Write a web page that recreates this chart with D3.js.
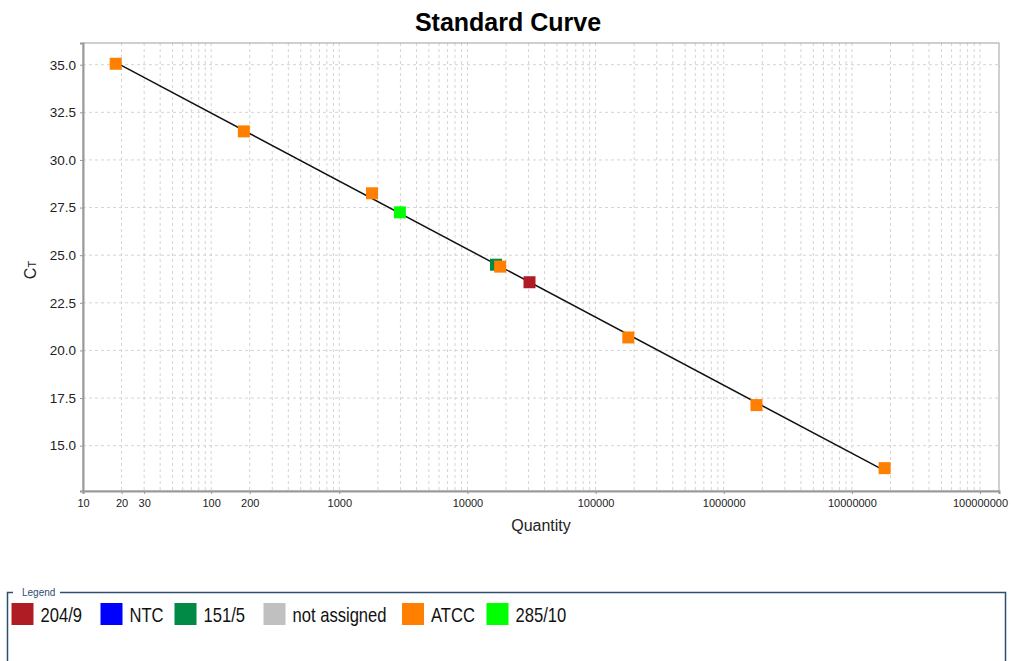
<!DOCTYPE html>
<html>
<head>
<meta charset="utf-8">
<script src="https://cdn.jsdelivr.net/npm/d3@7"></script>
<style>
  html, body { margin: 0; padding: 0; background: #fff; }
  svg { display: block; font-family: "Liberation Sans", Arial, sans-serif; }
</style>
</head>
<body>
<svg id="chart" width="1011" height="661"></svg>
<script>
// Standard curve samples: quantity and threshold cycle per group
const sampleGroups = ["ATCC", "ATCC", "ATCC", "285/10", "151/5", "ATCC", "204/9", "ATCC", "ATCC", "ATCC"];
const sampleQuantities = [18, 180, 1800, 2970, 16700, 18000, 30500, 180000, 1800000, 18000000];
const sampleCt = [35.05, 31.5, 28.25, 27.25, 24.5, 24.4, 23.58, 20.68, 17.13, 13.82];

// Legend entries and colours
const legendNames = ["204/9", "NTC", "151/5", "not assigned", "ATCC", "285/10"];
const legendColors = ["#b01c24", "#0000ff", "#008a45", "#c0c0c0", "#ff8000", "#00ff00"];

// Axis ticks
const yTicks = [15.0, 17.5, 20.0, 22.5, 25.0, 27.5, 30.0, 32.5, 35.0];
const xTickLabels = [10, 20, 30, 100, 200, 1000, 10000, 100000, 1000000, 10000000, 100000000];

const svg = d3.select("#chart");
const plot = { left: 83, top: 43, right: 999, bottom: 491 };

const x = d3.scaleLog().domain([10, Math.pow(10, 8.148)]).range([plot.left, plot.right]);
const y = d3.scaleLinear().domain([12.62, 36.14]).range([plot.bottom, plot.top]);
const colorOf = d3.scaleOrdinal().domain(legendNames).range(legendColors);

// Title
svg.append("text")
  .attr("x", 508).attr("y", 31)
  .attr("text-anchor", "middle")
  .attr("font-size", 25).attr("font-weight", "bold")
  .attr("fill", "#000")
  .text("Standard Curve");

// Grid: vertical lines at every 1..9 step within each decade
const gridX = [];
for (let e = 1; e <= 8; e++) {
  for (let m = 1; m <= 9; m++) {
    const v = m * Math.pow(10, e);
    if (v > 10 && x(v) < plot.right - 0.5) gridX.push(v);
  }
}
const grid = svg.append("g");
grid.selectAll("line.gx").data(gridX).join("line")
  .attr("x1", d => x(d)).attr("x2", d => x(d))
  .attr("y1", plot.top).attr("y2", plot.bottom)
  .attr("stroke", "#d4d4d4").attr("stroke-width", 1)
  .attr("stroke-dasharray", "3,3");
grid.selectAll("line.gy").data(yTicks).join("line")
  .attr("x1", plot.left).attr("x2", plot.right)
  .attr("y1", d => y(d)).attr("y2", d => y(d))
  .attr("stroke", "#d4d4d4").attr("stroke-width", 1)
  .attr("stroke-dasharray", "3,3");

// Plot frame
svg.append("rect")
  .attr("x", plot.left).attr("y", plot.top)
  .attr("width", plot.right - plot.left).attr("height", plot.bottom - plot.top)
  .attr("fill", "none").attr("stroke", "#a0a0a0").attr("stroke-width", 1);

// Y axis
const yAxis = svg.append("g")
  .attr("transform", `translate(${plot.left},0)`)
  .call(d3.axisLeft(y).tickValues(yTicks).tickFormat(d3.format(".1f")).tickSize(3).tickPadding(4));
yAxis.select(".domain").attr("stroke", "#999").attr("stroke-width", 2);
yAxis.selectAll(".tick line").attr("stroke", "#999");
yAxis.selectAll("text").attr("font-size", 13.5).attr("fill", "#222")
  .attr("font-family", "Liberation Sans, Arial, sans-serif");

// X axis
const xAxis = svg.append("g")
  .attr("transform", `translate(0,${plot.bottom})`)
  .call(d3.axisBottom(x).tickValues(xTickLabels).tickFormat(d3.format("d")).tickSize(3).tickPadding(5));
xAxis.select(".domain").attr("stroke", "#999").attr("stroke-width", 2);
xAxis.selectAll(".tick line").attr("stroke", "#999");
xAxis.selectAll("text").attr("font-size", 11).attr("fill", "#222")
  .attr("font-family", "Liberation Sans, Arial, sans-serif");

// Axis titles
svg.append("text")
  .attr("x", 541).attr("y", 531)
  .attr("text-anchor", "middle")
  .attr("font-size", 16).attr("fill", "#222")
  .text("Quantity");

const yTitle = svg.append("text")
  .attr("transform", "translate(36,270) rotate(-90)")
  .attr("text-anchor", "middle")
  .attr("font-size", 16).attr("fill", "#222");
yTitle.append("tspan").text("C");
yTitle.append("tspan").attr("font-size", 11).text("T");

// Regression line over the ATCC standards
const std = sampleQuantities.map((q, i) => ({ q, ct: sampleCt[i], g: sampleGroups[i] }))
  .filter(d => d.g === "ATCC");
const lx = std.map(d => Math.log10(d.q));
const ly = std.map(d => d.ct);
const mx = d3.mean(lx), my = d3.mean(ly);
const slope = d3.sum(lx.map((v, i) => (v - mx) * (ly[i] - my))) / d3.sum(lx.map(v => (v - mx) * (v - mx)));
const intercept = my - slope * mx;
const qMin = d3.min(std, d => d.q), qMax = d3.max(std, d => d.q);
const linePts = [qMin, qMax].map(q => [x(q), y(intercept + slope * Math.log10(q))]);
svg.append("path")
  .attr("d", d3.line()(linePts))
  .attr("stroke", "#111").attr("stroke-width", 1.5).attr("fill", "none");

// Sample markers
const sq = 12;
svg.append("g").selectAll("rect")
  .data(sampleQuantities.map((q, i) => ({ q, ct: sampleCt[i], g: sampleGroups[i] })))
  .join("rect")
  .attr("x", d => x(d.q) - sq / 2)
  .attr("y", d => y(d.ct) - sq / 2)
  .attr("width", sq).attr("height", sq)
  .attr("fill", d => colorOf(d.g));

// Legend panel
const legend = svg.append("g");
legend.append("path")
  .attr("d", "M7.5,661 L7.5,592.5 L13,592.5 M60,592.5 L1005.5,592.5 L1005.5,661")
  .attr("fill", "none").attr("stroke", "#2d4d72").attr("stroke-width", 1.5);
legend.append("text")
  .attr("x", 22).attr("y", 595.5)
  .attr("font-size", 10).attr("fill", "#2d4d72")
  .attr("font-family", "'Liberation Sans', Arial, sans-serif")
  .text("Legend");

const legendSquareX = [11.5, 100.5, 174.5, 263.5, 402, 486.5];
const legendItems = legend.selectAll("g.item")
  .data(legendNames.map((n, i) => ({ n, c: legendColors[i], xs: legendSquareX[i] })))
  .join("g").attr("class", "item");
legendItems.append("rect")
  .attr("x", d => d.xs).attr("y", 603)
  .attr("width", 22).attr("height", 22)
  .attr("fill", d => d.c);
// Narrow-set labels: regular sans, condensed horizontally
legendItems.append("text")
  .attr("transform", d => `translate(${d.xs + 29},622) scale(0.83,1)`)
  .attr("font-size", 20).attr("fill", "#111")
  .attr("font-family", "'Liberation Sans', Arial, sans-serif")
  .text(d => d.n);
</script>
</body>
</html>
